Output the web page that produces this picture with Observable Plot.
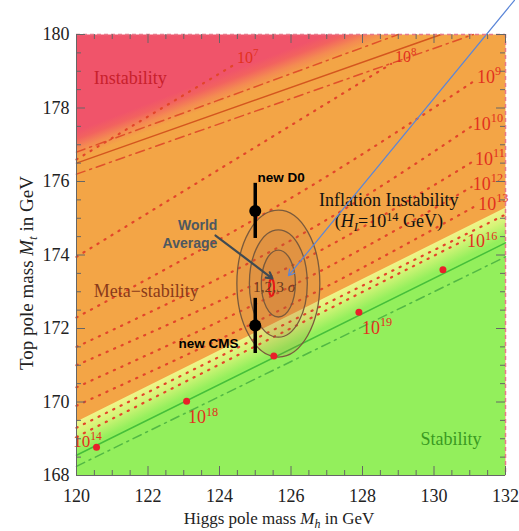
<!DOCTYPE html>
<html><head><meta charset="utf-8">
<script src="https://cdn.jsdelivr.net/npm/d3@7"></script>
<script src="https://cdn.jsdelivr.net/npm/@observablehq/plot@0.6"></script>
<style>body{margin:0;background:#fff}</style>
</head><body><div id="chart"></div>
<script>
// ---------- data ----------
const xTicksMajor = [120,122,124,126,128,130,132];
const yTicksMajor = [168,170,172,174,176,178,180];
const xTicksMinor = [120.5,121,121.5,122.5,123,123.5,124.5,125,125.5,126.5,127,127.5,128.5,129,129.5,130.5,131,131.5];
const yTicksMinor = [168.5,169,169.5,170.5,171,171.5,172.5,173,173.5,174.5,175,175.5,176.5,177,177.5,178.5,179,179.5];

// instability / meta-stability boundary (central, and error band)
const instCenterLine = [[120,176.5],[130.2,180]];
const instUpperLine  = [[120,176.8],[129.0,180]];
const instLowerLine  = [[120,176.2],[131.1,180]];
const instFadeLine   = [[120,177.0],[128.0,180]];

// meta-stability / stability boundary
const stableEdge     = [[120,169.45],[132,175.27]];
const greenSolidLine = [[120,168.55],[132,174.33]];
const greenDashLine  = [[120,168.25],[132,173.95]];

// instability-scale contours (dotted)
const contour7  = [[120,176.6],[124.45,179.2]];
const contour8  = [[120,173.95],[128.8,179.2]];
const contour9  = [[120,172.3],[126,175.55],[131.15,178.75]];
const contour10 = [[120,171.5],[126,174.4],[131.05,177.5]];
const contour11 = [[120,171.0],[126,173.7],[131.1,176.55]];
const contour12 = [[120,170.4],[126,173.15],[131.05,175.85]];
const contour13 = [[120,169.9],[126,172.65],[131.1,175.3]];
const contour14 = [[120,169.3],[132,175.1]];
const contour16 = [[120,169.05],[130.85,174.4]];
const contours = [contour7,contour8,contour9,contour10,contour11,contour12,contour13,contour14,contour16];

// contour labels 10^n
const lambdaX   = [124.5, 128.92, 131.22, 131.1, 131.16, 131.1, 131.25, 130.94, 128.0, 123.13, 119.92];
const lambdaY   = [179.21, 179.24, 178.67, 177.39, 176.44, 175.76, 175.21, 174.2, 171.84, 169.41, 168.76];
const lambdaExp = ["7","8","9","10","11","12","13","16","19","18","14"];
const lambdaSize= [16, 16, 18, 18, 18, 18, 18, 18, 18, 18, 17];

// red dots on the stability boundary
const redDotX = [120.56, 123.08, 125.52, 127.9, 130.25];
const redDotY = [168.77, 170.02, 171.25, 172.44, 173.6];

// 1,2,3 sigma ellipses
const sigmaCenter = [125.66, 173.21];
const sigmaRx = [1.16, 0.81, 0.476];
const sigmaRy = [2.0, 1.46, 0.91];
const worldCenter = [125.47, 173.1];
const worldRx = 0.07, worldRy = 0.23;

// measurements
const measName = ["new D0", "new CMS"];
const measX    = [125, 125];
const measY    = [175.2, 172.08];
const measLow  = [174.45, 171.32];
const measHigh = [175.95, 172.82];
const measLabelX = [125.06, 122.85];
const measLabelY = [176.0, 171.46];

// arrows
const worldArrow = [[123.89,174.53],[125.48,173.36]];
const blueArrow  = [[132.25,180.93],[125.93,173.44]];

// ---------- helpers ----------
const rows = (pts, id) => pts.map(([x,y]) => ({x, y, id}));
const contourRows = contours.flatMap((p,i) => rows(p,i));

function richText(items) {
  return (index, scales) => {
    const g = d3.create("svg:g");
    for (const it of items) {
      const t = g.append("text")
        .attr("x", it.px != null ? it.px : scales.x(it.x))
        .attr("y", it.py != null ? it.py : scales.y(it.y))
        .attr("font-family", it.font || "Liberation Serif")
        .attr("font-size", it.size)
        .attr("fill", it.fill || "#000")
        .attr("text-anchor", it.anchor || "start");
      if (it.rotate) t.attr("transform", `rotate(${it.rotate},${it.px},${it.py})`);
      let shift = 0;
      const supShift = it.supShift || 0.42;
      for (const [txt, kind = ""] of it.parts) {
        const s = t.append("tspan").text(txt);
        let target = 0;
        if (kind.includes("sup")) { target = -it.size * supShift; s.attr("font-size", it.size * 0.68); }
        if (kind.includes("sub")) { target = it.size * 0.22; s.attr("font-size", it.size * 0.7); }
        if (kind.includes("it")) s.attr("font-style", "italic");
        const dy = target - shift;
        if (dy) s.attr("dy", dy);
        shift = target;
      }
    }
    return g.node();
  };
}

function gradients(index, scales) {
  const X = scales.x, Y = scales.y;
  const defs = d3.create("svg:defs");
  function grad(id, line, w, stops, toward) {
    const a = [X(line[0][0]), Y(line[0][1])], b = [X(line[1][0]), Y(line[1][1])];
    const dx = b[0]-a[0], dy = b[1]-a[1], L = Math.hypot(dx, dy);
    const nx = -dy / L, ny = dx / L; // points down-right
    const c = a;
    let p1, p2;
    if (toward === "center") { p1 = [c[0]+w*nx, c[1]+w*ny]; p2 = [c[0]-w*nx, c[1]-w*ny]; }
    else { p1 = c; p2 = [c[0]+w*nx, c[1]+w*ny]; }
    const g = defs.append("linearGradient").attr("id", id).attr("gradientUnits", "userSpaceOnUse")
      .attr("x1", p1[0]).attr("y1", p1[1]).attr("x2", p2[0]).attr("y2", p2[1]);
    for (const [o, col] of stops) g.append("stop").attr("offset", o).attr("stop-color", col);
  }
  grad("instGrad", instFadeLine, 13, [[0,"#f3a546"],[0.35,"#f48a52"],[0.7,"#f2625f"],[1,"#f0546a"]], "center");
  grad("stabGrad", stableEdge, 27, [[0,"#f0f58a"],[0.4,"#d6f478"],[1,"#93ef5c"]], "down");
  return defs.node();
}

function ellipses(index, scales) {
  const X = scales.x, Y = scales.y;
  const g = d3.create("svg:g");
  const cx = X(sigmaCenter[0]), cy = Y(sigmaCenter[1]);
  sigmaRx.forEach((rx, i) => {
    g.append("ellipse").attr("cx", cx).attr("cy", cy)
      .attr("rx", Math.abs(X(sigmaCenter[0] + rx) - cx))
      .attr("ry", Math.abs(Y(sigmaCenter[1] + sigmaRy[i]) - cy))
      .attr("fill", "#b4603a").attr("fill-opacity", 0.14)
      .attr("stroke", "#7a5a3c").attr("stroke-width", 1.3);
  });
  const wx = X(worldCenter[0]), wy = Y(worldCenter[1]);
  g.append("ellipse").attr("cx", wx).attr("cy", wy)
    .attr("rx", Math.abs(X(worldCenter[0] + worldRx) - wx))
    .attr("ry", Math.abs(Y(worldCenter[1] + worldRy) - wy))
    .attr("fill", "none").attr("stroke", "#e81818").attr("stroke-width", 2);
  return g.node();
}

const lambdaItems = lambdaX.map((x, i) => ({x, y: lambdaY[i], size: lambdaSize[i], fill: "#e2301e",
  parts: [["10"], [lambdaExp[i], "sup"]]}));

const annotItems = [
  {x: 126.8, y: 175.31, size: 18, fill: "#111", parts: [["Inflation Instability"]]},
  {x: 127.24, y: 174.74, size: 18, fill: "#111", supShift: 0.36, parts: [["("], ["H", "it"], ["I", "itsub"], ["=10"], ["14", "sup"], [" GeV)"]]},
  {x: 124.95, y: 172.98, size: 15.5, fill: "#6a3a1e", parts: [["1,2,3 "], ["σ", "it"]]}
];

const axisTitleItems = [
  {px: 279, py: 524, size: 17, fill: "#222", anchor: "middle",
   parts: [["Higgs pole mass "], ["M", "it"], ["h", "itsub"], [" in GeV"]]},
  {px: 33, py: 273, size: 19, fill: "#222", anchor: "middle", rotate: -90,
   parts: [["Top pole mass "], ["M", "it"], ["t", "itsub"], [" in GeV"]]}
];

const measRows = measName.map((n, i) => ({n, x: measX[i], y: measY[i], lo: measLow[i], hi: measHigh[i], lx: measLabelX[i], ly: measLabelY[i]}));
const dotRows = redDotX.map((x, i) => ({x, y: redDotY[i]}));
const arrowRows = [
  {x1: worldArrow[0][0], y1: worldArrow[0][1], x2: worldArrow[1][0], y2: worldArrow[1][1], c: "#3f4a52", w: 2.2},
  {x1: blueArrow[0][0], y1: blueArrow[0][1], x2: blueArrow[1][0], y2: blueArrow[1][1], c: "#5b86d8", w: 1.2}
];

const lineStyle = {x: "x", y: "y"};

const chart = Plot.plot({
  width: 519, height: 531,
  marginLeft: 76, marginRight: 14, marginTop: 34, marginBottom: 56,
  x: {domain: [120, 132], axis: null},
  y: {domain: [168, 180], axis: null},
  style: {fontFamily: "Liberation Serif", background: "white", overflow: "visible"},
  marks: [
    gradients,
    Plot.frame({fill: "url(#instGrad)", stroke: null}),
    Plot.area(rows(stableEdge, 0), {x1: "x", y1: 168, y2: "y", fill: "url(#stabGrad)"}),
    Plot.line(contourRows, {x: "x", y: "y", z: "id", curve: "natural", stroke: "#e3452a", strokeWidth: 2.2, strokeDasharray: "1.2,7", strokeLinecap: "round"}),
    Plot.line(rows(instCenterLine, 0), {...lineStyle, stroke: "#d4561e", strokeWidth: 1.5}),
    Plot.line(rows(instUpperLine, 0), {...lineStyle, stroke: "#e0502a", strokeWidth: 1.5, strokeDasharray: "9,5,2,5"}),
    Plot.line(rows(instLowerLine, 0), {...lineStyle, stroke: "#e0502a", strokeWidth: 1.5, strokeDasharray: "9,5,2,5"}),
    Plot.line(rows(greenSolidLine, 0), {...lineStyle, stroke: "#45bf3a", strokeWidth: 1.5}),
    Plot.line(rows(greenDashLine, 0), {...lineStyle, stroke: "#52b844", strokeWidth: 1.5, strokeDasharray: "9,5,2,5"}),
    ellipses,
    Plot.ruleX(measRows, {x: "x", y1: "lo", y2: "hi", stroke: "#000", strokeWidth: 3.5}),
    Plot.dot(measRows, {x: "x", y: "y", r: 6, fill: "#000", stroke: null}),
    Plot.dot(dotRows, {x: "x", y: "y", r: 3.5, fill: "#e8202a", stroke: null}),
    Plot.text(measRows, {x: "lx", y: "ly", text: "n", textAnchor: "start", lineAnchor: "bottom",
      fontFamily: "Liberation Sans", fontWeight: "bold", fontSize: 13.5, fill: "#000"}),
    Plot.text(["World", "Average"], {x: [123.94, 123.94], y: [174.69, 174.2], text: d => d, textAnchor: "end", lineAnchor: "bottom",
      fontFamily: "Liberation Sans", fontWeight: "bold", fontSize: 14, fill: "#4d5860"}),
    Plot.text(["Instability"], {x: [120.48], y: [178.64], text: d => d, textAnchor: "start", lineAnchor: "bottom", fontSize: 18, fill: "#c8202c"}),
    Plot.text(["Meta−stability"], {x: [120.48], y: [172.87], text: d => d, textAnchor: "start", lineAnchor: "bottom", fontSize: 18, fill: "#8a3a1a"}),
    Plot.text(["Stability"], {x: [129.62], y: [168.84], text: d => d, textAnchor: "start", lineAnchor: "bottom", fontSize: 18, fill: "#3a9a22"}),
    richText(lambdaItems),
    richText(annotItems),
    Plot.arrow(arrowRows, {x1: "x1", y1: "y1", x2: "x2", y2: "y2", stroke: d => d.c, strokeWidth: d => d.w, headLength: 10}),
    // frame
    Plot.ruleX([120], {stroke: "#666", strokeWidth: 1}),
    Plot.ruleY([168], {stroke: "#666", strokeWidth: 1}),
    Plot.ruleX([132], {stroke: "#e8788a", strokeWidth: 1.5, strokeDasharray: "4,3"}),
    Plot.ruleY([180], {stroke: "#e8788a", strokeWidth: 1.5, strokeDasharray: "4,3"}),
    // ticks (inward, all four sides)
    Plot.tickX(xTicksMajor, {x: d => d, insetTop: 432, stroke: "#666"}),
    Plot.tickX(xTicksMajor, {x: d => d, insetBottom: 432, stroke: "#666"}),
    Plot.tickX(xTicksMinor, {x: d => d, insetTop: 436, stroke: "#666"}),
    Plot.tickX(xTicksMinor, {x: d => d, insetBottom: 436, stroke: "#666"}),
    Plot.tickY(yTicksMajor, {y: d => d, insetRight: 420, stroke: "#666"}),
    Plot.tickY(yTicksMajor, {y: d => d, insetLeft: 420, stroke: "#666"}),
    Plot.tickY(yTicksMinor, {y: d => d, insetRight: 424, stroke: "#666"}),
    Plot.tickY(yTicksMinor, {y: d => d, insetLeft: 424, stroke: "#666"}),
    // tick labels
    Plot.text(xTicksMajor, {x: d => d, frameAnchor: "bottom", dy: 26, lineAnchor: "bottom", text: d => String(d), fontSize: 18, fill: "#222"}),
    Plot.text(yTicksMajor, {y: d => d, frameAnchor: "left", dx: -7, textAnchor: "end", lineAnchor: "middle", text: d => String(d), fontSize: 18, fill: "#222"}),
    richText(axisTitleItems)
  ]
});
document.getElementById("chart").appendChild(chart);
</script>
</body></html>
